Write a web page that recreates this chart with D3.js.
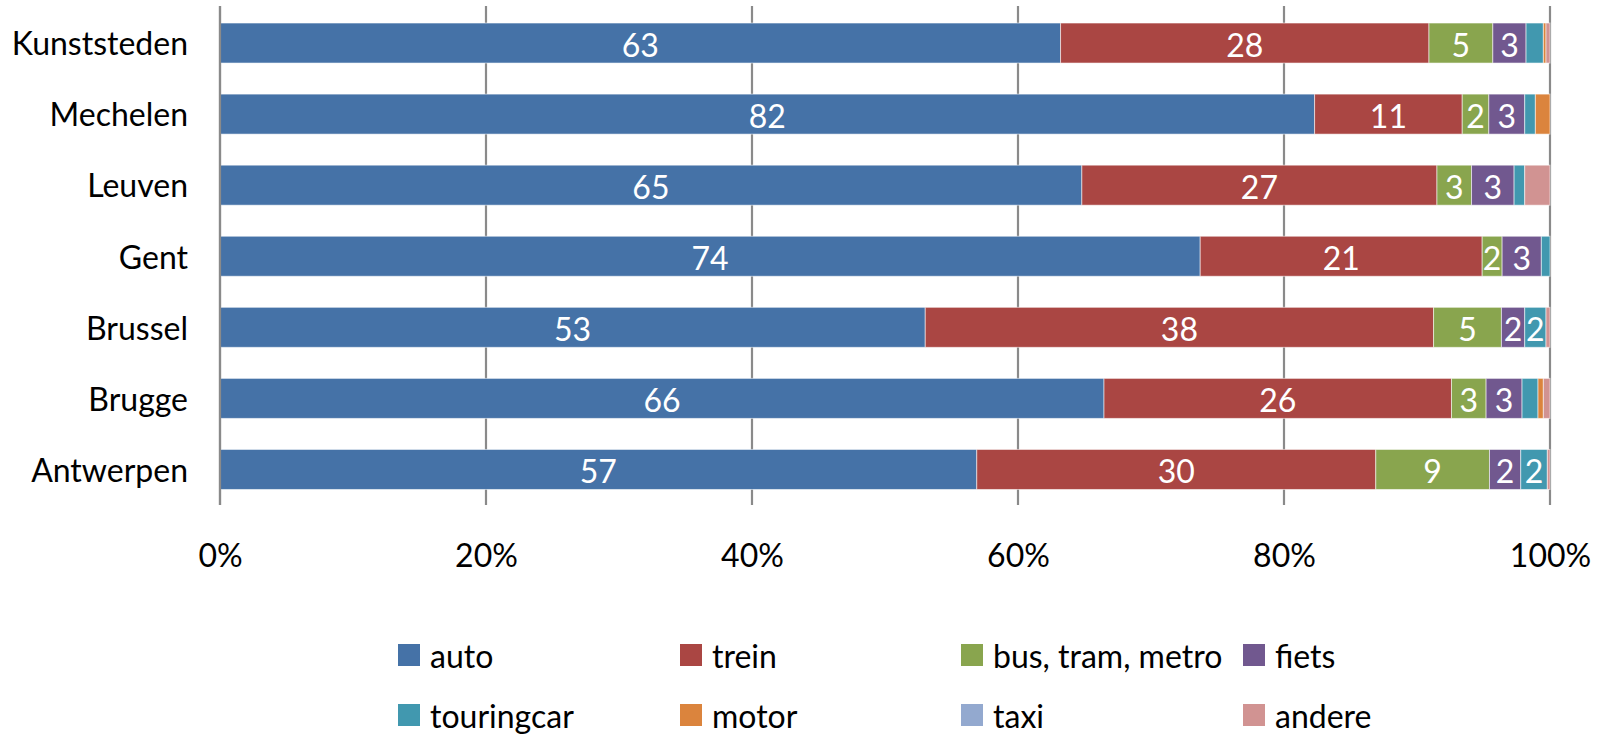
<!DOCTYPE html>
<html><head><meta charset="utf-8">
<script src="https://cdn.jsdelivr.net/npm/d3@7"></script>
<style>html,body{margin:0;padding:0;background:#fff;}svg{display:block;}</style>
</head><body>
<svg id="chart" width="1608" height="735"></svg>
<script>
const categories = ["Kunststeden","Mechelen","Leuven","Gent","Brussel","Brugge","Antwerpen"];
const seriesNames = ["auto","trein","bus, tram, metro","fiets","touringcar","motor","taxi","andere"];
const auto       = [63.2, 82.3, 64.8, 73.7, 53.0, 66.4, 56.9];
const trein      = [27.7, 11.1, 26.7, 21.2, 38.2, 26.1, 30.0];
const bus        = [4.8, 2.0, 2.6, 1.5, 5.1, 2.6, 8.55];
const fiets      = [2.5, 2.7, 3.2, 2.95, 1.75, 2.7, 2.35];
const touringcar = [1.3, 0.8, 0.8, 0.65, 1.6, 1.2, 2.0];
const motor      = [0.2, 1.1, 0, 0, 0, 0.4, 0];
const taxi       = [0, 0, 0, 0, 0, 0, 0];
const andere     = [0.3, 0, 1.9, 0, 0.3, 0.5, 0.2];
const tickValues = [0, 0.2, 0.4, 0.6, 0.8, 1.0];
const colors = ["#4572A7","#AA4643","#89A54E","#71588F","#4198AF","#DB843D","#93A9CF","#D19392"];
const labelledSeries = 5; // data labels on first five series

const seriesData = [auto, trein, bus, fiets, touringcar, motor, taxi, andere];
const rows = categories.map((c, i) => {
  const r = {category: c};
  seriesNames.forEach((s, j) => r[s] = seriesData[j][i]);
  return r;
});

const FONT = "Lato, 'Open Sans', sans-serif";
const FS = 32;
const svg = d3.select("#chart");
const x = d3.scaleLinear().domain([0, 1]).range([220, 1550]);
const y = d3.scaleBand().domain(categories).range([7.5, 505]).paddingInner(0.437).paddingOuter(0.2185);

const stack = d3.stack().keys(seriesNames).offset(d3.stackOffsetExpand);
const stacked = stack(rows);
const color = d3.scaleOrdinal().domain(seriesNames).range(colors);

// gridlines
svg.append("g").selectAll("line").data(tickValues).join("line")
  .attr("x1", d => x(d)).attr("x2", d => x(d))
  .attr("y1", 6).attr("y2", 505)
  .attr("stroke", "#8a8a8a").attr("stroke-width", 2.2);

// bars
const g = svg.append("g");
stacked.forEach((layer, si) => {
  g.append("g").selectAll("rect").data(layer).join("rect")
    .attr("x", d => x(d[0]))
    .attr("width", d => Math.max(0, x(d[1]) - x(d[0])))
    .attr("y", d => y(d.data.category))
    .attr("height", y.bandwidth())
    .attr("fill", color(layer.key))
    .attr("stroke", "rgba(255,255,255,0.55)")
    .attr("stroke-width", 1);
});

// data labels
stacked.forEach((layer, si) => {
  if (si >= labelledSeries) return;
  const key = layer.key;
  g.append("g").selectAll("text").data(layer.filter(d => Math.round(d.data[key]) >= 2)).join("text")
    .attr("x", d => (x(d[0]) + x(d[1])) / 2)
    .attr("y", d => y(d.data.category) + y.bandwidth() / 2 + 1)
    .attr("text-anchor", "middle")
    .attr("dominant-baseline", "central")
    .attr("fill", "#ffffff")
    .attr("font-family", FONT)
    .attr("font-size", FS)
    .text(d => Math.round(d.data[key]));
});

// y axis line
svg.append("line").attr("x1", x(0)).attr("x2", x(0)).attr("y1", 6).attr("y2", 505)
  .attr("stroke", "#8a8a8a").attr("stroke-width", 2.2);

// category labels
const yAxis = d3.axisLeft(y).tickSize(0).tickPadding(32);
const ya = svg.append("g").attr("transform", `translate(${x(0)},2)`).call(yAxis);
ya.select(".domain").remove();
ya.selectAll("text").attr("font-family", FONT).attr("font-size", FS).attr("fill", "#000");

// x tick labels
const xAxis = d3.axisBottom(x).tickValues(tickValues).tickFormat(d3.format(".0%")).tickSize(0).tickPadding(0);
const xa = svg.append("g").attr("transform", `translate(0,554)`).call(xAxis);
xa.select(".domain").remove();
xa.selectAll("text").attr("font-family", FONT).attr("font-size", FS).attr("fill", "#000")
  .attr("dy", null).attr("dominant-baseline", "central");

// legend
const legCols = [398, 680, 961, 1243];
const legRows = [655, 715];
const leg = svg.append("g").selectAll("g").data(seriesNames).join("g")
  .attr("transform", (d, i) => `translate(${legCols[i % 4]},${legRows[Math.floor(i / 4)]})`);
leg.append("rect").attr("x", 0).attr("y", -11).attr("width", 22).attr("height", 22)
  .attr("fill", d => color(d));
leg.append("text").attr("x", 32).attr("y", 0).attr("dominant-baseline", "central")
  .attr("font-family", FONT).attr("font-size", FS).attr("fill", "#000").text(d => d);
</script>
</body></html>
